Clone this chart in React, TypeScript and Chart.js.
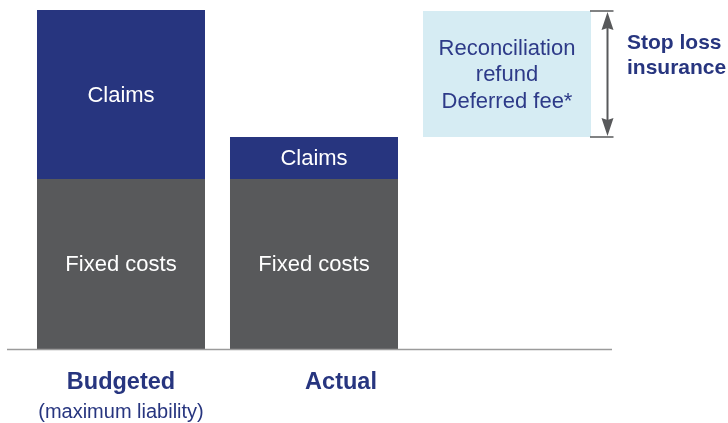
import React, { useEffect, useRef } from "react";
import { Chart, registerables } from "chart.js";

Chart.register(...registerables);

const categories = ["Budgeted", "Actual", ""];
const subLabels = ["(maximum liability)", "", ""];
const fixedCosts = [50, 50, 0];
const claims = [49.7, 12.35, 0];
const deferredStart = [0, 0, 62.35];
const deferred = [0, 0, 37.05];
const fixedText = "Fixed costs";
const claimsText = "Claims";
const deferredText = ["Reconciliation", "refund", "Deferred fee*"];
const sideLabel = ["Stop loss", "insurance"];

const NAVY = "#27357f";
const GREY = "#58595b";
const LIGHT = "#d6ecf3";
const FONT = '"Liberation Sans", Arial, sans-serif';

function floating(base: number[], vals: number[]) {
  return vals.map((v, i) => (v > 0 ? [base[i], base[i] + v] : null));
}

export default function App() {
  const ref = useRef<HTMLCanvasElement>(null);
  useEffect(() => {
    const zeros = categories.map(() => 0);
    const fixedTop = fixedCosts.map((v) => v);
    const textPlugin = {
      id: "texts",
      afterDatasetsDraw(chart: any) {
        const ctx = chart.ctx;
        const area = chart.chartArea;
        const yS = chart.scales.y;
        const xS = chart.scales.x;
        ctx.save();
        const y0 = yS.getPixelForValue(0);
        ctx.strokeStyle = "#9b9b9b";
        ctx.lineWidth = 1.5;
        ctx.beginPath();
        ctx.moveTo(area.left - 17.5, y0 + 0.5);
        ctx.lineTo(area.right + 8.5, y0 + 0.5);
        ctx.stroke();

        ctx.textAlign = "center";
        ctx.textBaseline = "middle";
        const m0 = chart.getDatasetMeta(0);
        const m1 = chart.getDatasetMeta(1);
        const m2 = chart.getDatasetMeta(2);
        ctx.fillStyle = "#ffffff";
        ctx.font = `22px ${FONT}`;
        categories.forEach((_, i) => {
          if (fixedCosts[i] > 0) {
            const el = m0.data[i];
            ctx.fillText(fixedText, el.x, (el.y + el.base) / 2 + 1);
          }
          if (claims[i] > 0) {
            const el = m1.data[i];
            ctx.fillText(claimsText, el.x, (el.y + el.base) / 2 + 1);
          }
        });
        categories.forEach((_, i) => {
          if (deferred[i] > 0) {
            const el = m2.data[i];
            const cy = (el.y + el.base) / 2;
            ctx.fillStyle = "#2d3a88";
            ctx.font = `22px ${FONT}`;
            deferredText.forEach((t, k) => {
              ctx.fillText(t, el.x, cy + 1 + (k - 1) * 26.5);
            });
            const ax = el.x + el.width / 2 + 16.5;
            const top = el.y;
            const bot = el.base;
            ctx.strokeStyle = GREY;
            ctx.fillStyle = GREY;
            ctx.lineWidth = 1.5;
            ctx.beginPath();
            ctx.moveTo(el.x + el.width / 2 - 1, top);
            ctx.lineTo(ax + 6, top);
            ctx.moveTo(el.x + el.width / 2 - 1, bot);
            ctx.lineTo(ax + 6, bot);
            ctx.stroke();
            ctx.lineWidth = 2;
            ctx.beginPath();
            ctx.moveTo(ax, top + 10);
            ctx.lineTo(ax, bot - 10);
            ctx.stroke();
            ctx.beginPath();
            ctx.moveTo(ax, top + 1);
            ctx.lineTo(ax - 6, top + 19);
            ctx.lineTo(ax, top + 17);
            ctx.lineTo(ax + 6, top + 19);
            ctx.closePath();
            ctx.fill();
            ctx.beginPath();
            ctx.moveTo(ax, bot - 1);
            ctx.lineTo(ax - 6, bot - 19);
            ctx.lineTo(ax, bot - 17);
            ctx.lineTo(ax + 6, bot - 19);
            ctx.closePath();
            ctx.fill();
            ctx.fillStyle = NAVY;
            ctx.textAlign = "left";
            ctx.font = `bold 21px ${FONT}`;
            sideLabel.forEach((t, k) => {
              ctx.fillText(t, ax + 19.5, top + 32 + k * 25);
            });
            ctx.textAlign = "center";
          }
        });
        ctx.fillStyle = NAVY;
        categories.forEach((c, i) => {
          if (!c) return;
          const x = xS.getPixelForValue(i);
          const dx = i === 1 ? 27 : 0;
          ctx.font = `bold 23.5px ${FONT}`;
          ctx.fillText(c, x + dx, y0 + 34);
          if (subLabels[i]) {
            ctx.font = `20px ${FONT}`;
            ctx.fillText(subLabels[i], x, y0 + 63);
          }
        });
        ctx.restore();
      },
    };
    const chart = new Chart(ref.current!, {
      type: "bar",
      data: {
        labels: categories,
        datasets: [
          { label: "Fixed costs", data: floating(zeros, fixedCosts) as any, backgroundColor: GREY, borderWidth: 0 },
          { label: "Claims", data: floating(fixedTop, claims) as any, backgroundColor: NAVY, borderWidth: 0 },
          { label: "Deferred", data: floating(deferredStart, deferred) as any, backgroundColor: LIGHT, borderWidth: 0 },
        ],
      },
      options: {
        responsive: false,
        animation: false,
        devicePixelRatio: 1,
        layout: { padding: { left: 24.5, right: 124.5, top: 9, bottom: 74 } },
        datasets: { bar: { categoryPercentage: 1, barPercentage: 0.8705, grouped: false } as any },
        scales: {
          x: { display: false, stacked: true },
          y: { display: false, min: 0, max: 100 },
        },
        plugins: { legend: { display: false }, tooltip: { enabled: false } },
      },
      plugins: [textPlugin],
    });
    return () => chart.destroy();
  }, []);
  return (
    <div style={{ position: "absolute", left: 0, top: 0, width: 728, height: 423 }}>
      <canvas ref={ref} width={728} height={423} />
    </div>
  );
}
